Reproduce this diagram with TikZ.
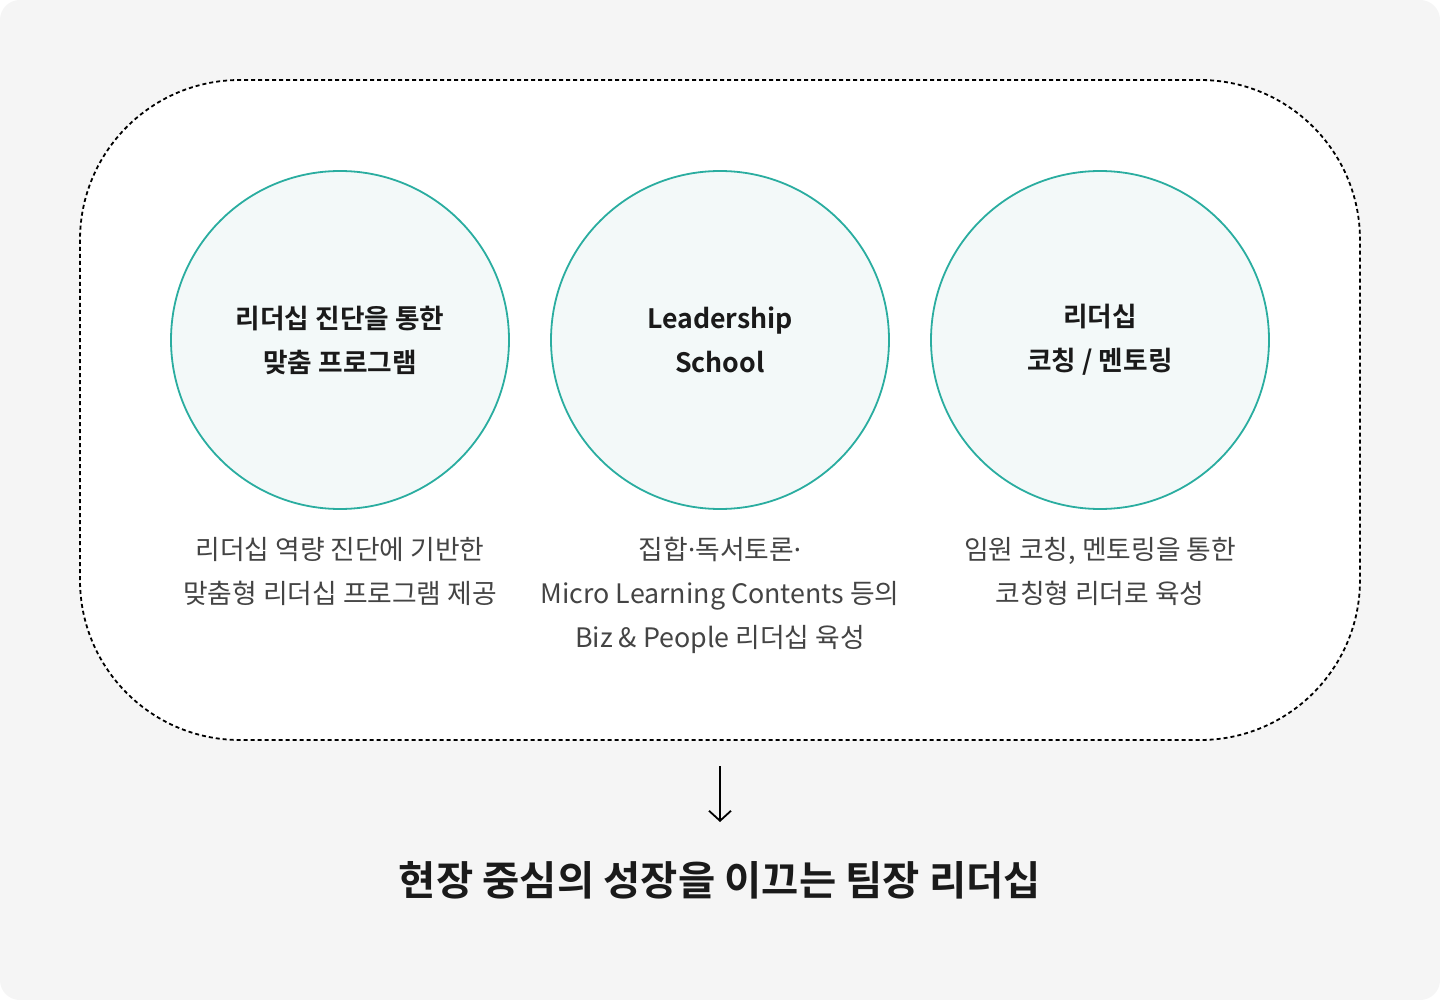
\documentclass[tikz,border=0pt]{standalone}
\usepackage{fontspec}
\setmainfont{Noto Sans CJK KR}
\newfontfamily\krbold{Noto Sans CJK KR Bold}
\newfontfamily\latinf{Noto Sans}
\usetikzlibrary{arrows.meta}
\definecolor{bggray}{HTML}{F5F5F5}
\definecolor{teal}{HTML}{2AADA0}
\definecolor{cfill}{HTML}{F3F9F9}
\definecolor{titletxt}{HTML}{1A1A1A}
\definecolor{desctxt}{HTML}{444444}
\tikzset{
  circ/.style={circle, draw=teal, line width=1.8pt, fill=cfill, minimum size=338pt, inner sep=0pt},
  ctitle/.style={font=\krbold\fontsize{26.7}{44}\selectfont, text=titletxt, align=center},
  cdesc/.style={font=\fontsize{26.8}{44}\selectfont, text=desctxt, align=center},
  maintitle/.style={font=\krbold\fontsize{40.5}{44}\selectfont, text=titletxt, align=center}
}
\begin{document}
\begin{tikzpicture}[x=1pt,y=-1pt]
\useasboundingbox (0,0) rectangle (1440,1000);
\fill[white] (0,0) rectangle (1440,1000);
\fill[bggray, rounded corners=20pt] (0,0) rectangle (1440,1000);
\draw[black, line width=1.8pt, dash pattern=on 4pt off 3pt, fill=white, rounded corners=160pt] (80,80) rectangle (1360,740);
\node[circ] (c1) at (340,340) {};
\node[circ] (c2) at (720,340) {};
\node[circ] (c3) at (1100,340) {};
\node[ctitle] (t1) at (340,340) {리더십 진단을 통한\\맞춤 프로그램};
\node[ctitle] (t2) at (720,340) {Leadership\\School};
\node[ctitle] (t3) at (1100,340) {리더십\\코칭 / 멘토링};
\node[cdesc, anchor=north] (d1) at (340,534) {리더십 역량 진단에 기반한\\맞춤형 리더십 프로그램 제공};
\node[cdesc, anchor=north] (d2) at (720,534) {집합{\latinf\bfseries ·}독서토론{\latinf\bfseries ·}\\Micro Learning Contents 등의\\Biz \& People 리더십 육성};
\node[cdesc, anchor=north] (d3) at (1100,534) {임원 코칭, 멘토링을 통한\\코칭형 리더로 육성};
\coordinate (as) at (720,766);
\coordinate (ae) at (720,822);
\draw[line width=1.8pt, -{Straight Barb[length=10pt,width=22pt,line width=1.8pt]}] (as) -- (ae);
\node[maintitle] (m) at (720,880) {현장 중심의 성장을 이끄는 팀장 리더십};
\end{tikzpicture}
\end{document}
